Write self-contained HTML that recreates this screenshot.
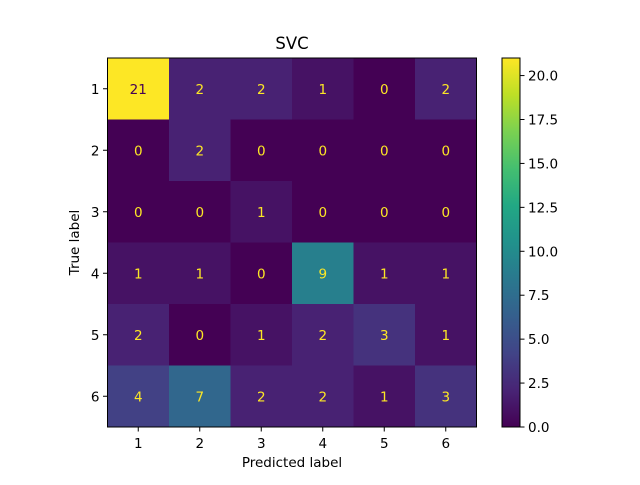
<!DOCTYPE html>
<html><head><meta charset="utf-8"><style>
html,body{margin:0;padding:0;background:#fff;}
svg text{font-family:"DejaVu Sans","Liberation Sans",sans-serif;}
</style></head><body>
<svg id="c" width="640" height="480" xmlns="http://www.w3.org/2000/svg">
<rect width="640" height="480" fill="#fff"/>
</svg>
<script>
const classes=["1","2","3","4","5","6"];
const matrix=[[21,2,2,1,0,2],[0,2,0,0,0,0],[0,0,1,0,0,0],[1,1,0,9,1,1],[2,0,1,2,3,1],[4,7,2,2,1,3]];
const cbTicks=[0,2.5,5,7.5,10,12.5,15,17.5,20];
const vmin=0,vmax=21;
const NS="http://www.w3.org/2000/svg";
const svg=document.getElementById('c');
const vir=["#440154","#482475","#414487","#355f8d","#2a788e","#21918c","#22a884","#44bf70","#7ad151","#bddf26","#fde725"];
function hx(h){return [1,3,5].map(i=>parseInt(h.substr(i,2),16));}
function cmap(t){t=Math.max(0,Math.min(1,t));const p=t*10,i=Math.min(9,Math.floor(p)),f=p-i;const a=hx(vir[i]),b=hx(vir[i+1]);return `rgb(${a.map((v,k)=>Math.round(v+(b[k]-v)*f)).join(',')})`;}
function el(tag,attrs,parent){const e=document.createElementNS(NS,tag);for(const k in attrs)e.setAttribute(k,attrs[k]);(parent||svg).appendChild(e);return e;}
const L=107.5,R=476.5,T=58,B=427,n=classes.length,cw=(R-L)/n,ch=(B-T)/n;
const xs=i=>L+i*cw, ys=i=>T+i*ch;
const g=el('g',{});


matrix.forEach((row,r)=>row.forEach((v,c)=>{
 const rc=el('rect',{x:xs(c),y:ys(r),width:cw+0.5,height:ch+0.5,fill:cmap((v-vmin)/(vmax-vmin))},g);
 
 
 const t=el('text',{x:xs(c)+cw/2,y:ys(r)+ch/2+5,'text-anchor':'middle','font-size':'13.5',fill:v<(vmax+vmin)/2?cmap(1):cmap(0)},g);
 t.textContent=v;
 
 
}));
const fr=el('rect',{x:L,y:T,width:R-L,height:B-T,fill:'none',stroke:'#000','stroke-width':1});


classes.forEach((c,i)=>{
 const x=xs(i)+cw/2;
 el('line',{x1:x,x2:x,y1:B,y2:B+4.5,stroke:'#000'});
 const t=el('text',{x:x,y:B+21,'text-anchor':'middle','font-size':'13.5'});t.textContent=c;
 
 
 const y=ys(i)+ch/2;
 el('line',{x1:L-4.5,x2:L,y1:y,y2:y,stroke:'#000'});
 const t2=el('text',{x:L-8,y:y+5,'text-anchor':'end','font-size':'13.5'});t2.textContent=c;
 
 
});
let t=el('text',{x:(L+R)/2,y:49,'text-anchor':'middle','font-size':'16.5'});t.textContent='SVC';

t=el('text',{x:(L+R)/2,y:467,'text-anchor':'middle','font-size':'13.5'});t.textContent='Predicted label';

t=el('text',{x:0,y:0,'text-anchor':'middle','font-size':'13.5',transform:`translate(79,${(T+B)/2}) rotate(-90)`});t.textContent='True label';

const CL=502,CR=520;
const defs=el('defs',{});const lg=el('linearGradient',{id:'vg',x1:0,y1:1,x2:0,y2:0},defs);
for(let i=0;i<=10;i++)el('stop',{offset:i/10,'stop-color':vir[i]},lg);
const cb=el('rect',{x:CL,y:T,width:CR-CL,height:B-T,fill:'url(#vg)',stroke:'#000','stroke-width':1});

const cy=v=>B-(v-vmin)/(vmax-vmin)*(B-T);
cbTicks.forEach(v=>{
 const y=cy(v);
 el('line',{x1:CR,x2:CR+4.5,y1:y,y2:y,stroke:'#000'});
 const tt=el('text',{x:CR+8,y:y+5,'font-size':'13.5'});tt.textContent=v.toFixed(1);
 
 
});
</script>
</body></html>
